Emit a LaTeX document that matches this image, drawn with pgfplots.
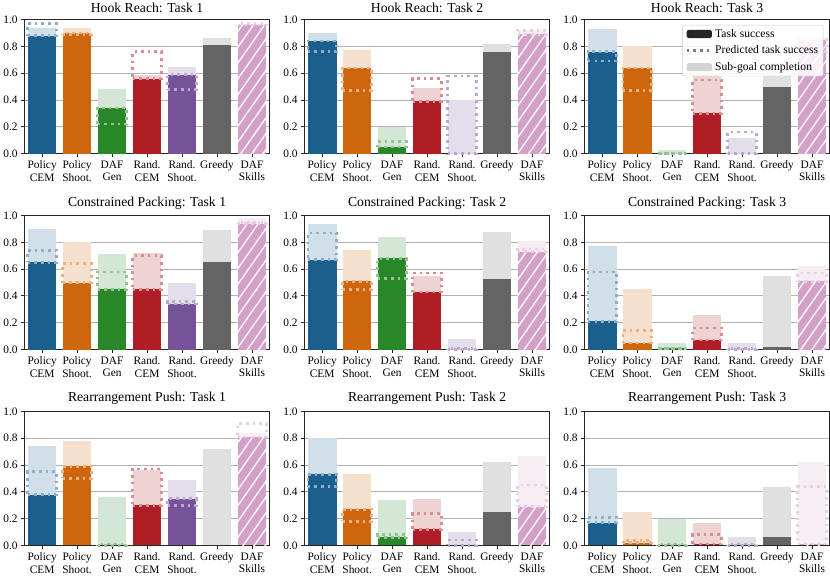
\documentclass[border=0pt]{standalone}
\usepackage{pgfplots}
\pgfplotsset{compat=1.18}
\usepackage{pgfplotstable}
\usepgfplotslibrary{groupplots}
\usetikzlibrary{patterns.meta}
\usepackage{fontspec}
\setmainfont{Liberation Serif}

\definecolor{c0}{RGB}{26,95,142}
\definecolor{c1}{RGB}{205,102,12}
\definecolor{c2}{RGB}{40,135,40}
\definecolor{c3}{RGB}{175,30,38}
\definecolor{c4}{RGB}{118,83,152}
\definecolor{c5}{RGB}{100,100,100}
\definecolor{c6}{RGB}{212,160,200}

% columns: x, task success T, predicted task success P, sub-goal completion S
\pgfplotstableread{
x T P S
0 0.88 0.97 0.94
1 0.90 0.89 0.94
2 0.34 0.22 0.48
3 0.56 0.76 0.59
4 0.59 0.48 0.65
5 0.81 0.81 0.86
6 0.96 0.97 0.97
}\hrA
\pgfplotstableread{
x T P S
0 0.84 0.76 0.90
1 0.64 0.47 0.77
2 0.05 0.09 0.20
3 0.39 0.56 0.49
4 0.00 0.58 0.40
5 0.76 0.76 0.82
6 0.89 0.92 0.92
}\hrB
\pgfplotstableread{
x T P S
0 0.76 0.69 0.93
1 0.64 0.47 0.80
2 0.00 0.00 0.03
3 0.30 0.55 0.60
4 0.00 0.16 0.12
5 0.50 0.50 0.68
6 0.85 0.76 0.86
}\hrC
\pgfplotstableread{
x T P S
0 0.65 0.74 0.90
1 0.50 0.64 0.80
2 0.45 0.58 0.71
3 0.45 0.70 0.72
4 0.34 0.36 0.50
5 0.65 0.65 0.89
6 0.94 0.95 0.98
}\cpA
\pgfplotstableread{
x T P S
0 0.67 0.87 0.94
1 0.51 0.45 0.74
2 0.68 0.53 0.84
3 0.43 0.57 0.55
4 0.00 0.01 0.08
5 0.53 0.53 0.88
6 0.73 0.75 0.81
}\cpB
\pgfplotstableread{
x T P S
0 0.21 0.58 0.77
1 0.05 0.14 0.45
2 0.01 0.01 0.05
3 0.07 0.16 0.26
4 0.00 0.01 0.05
5 0.02 0.02 0.55
6 0.51 0.57 0.62
}\cpC
\pgfplotstableread{
x T P S
0 0.38 0.55 0.74
1 0.59 0.50 0.78
2 0.00 0.01 0.36
3 0.30 0.57 0.56
4 0.35 0.30 0.49
5 0.00 0.00 0.72
6 0.81 0.91 0.84
}\rpA
\pgfplotstableread{
x T P S
0 0.53 0.44 0.80
1 0.27 0.18 0.53
2 0.06 0.08 0.34
3 0.12 0.24 0.35
4 0.00 0.04 0.10
5 0.25 0.25 0.62
6 0.29 0.45 0.67
}\rpB
\pgfplotstableread{
x T P S
0 0.17 0.21 0.58
1 0.02 0.035 0.25
2 0.00 0.01 0.20
3 0.01 0.08 0.17
4 0.00 0.01 0.06
5 0.06 0.06 0.44
6 0.01 0.44 0.62
}\rpC

\tikzset{
  solid0/.style={fill=c0}, solid1/.style={fill=c1}, solid2/.style={fill=c2},
  solid3/.style={fill=c3}, solid4/.style={fill=c4}, solid5/.style={fill=c5},
  solid6/.style={fill=c6, postaction={pattern={Lines[angle=55,distance=9pt,line width=1.3pt]}, pattern color=white}},
  dotbox/.style={dash pattern=on 2.6pt off 4pt, line width=2.6pt},
}
\pgfplotsset{
  boxlegend/.style={legend image code/.code={\fill[##1] (0pt,-4pt) rectangle (25pt,4pt);}},
  dotlegend/.style={legend image code/.code={\draw[##1] (0pt,0pt) -- (25pt,0pt);}},
}

% one panel: light sub-goal bars, solid task bars, dotted predicted boxes
\newcommand{\drawpanel}[1]{%
  \pgfplotsinvokeforeach{0,...,6}{%
    \addplot[ybar, bar width=0.82, bar shift=0pt, draw=none, fill=c##1!20, forget plot,
      restrict x to domain=##1:##1] table[x=x, y=S] {#1};
    \addplot[ybar, bar width=0.82, bar shift=0pt, draw=none, solid##1, forget plot,
      restrict x to domain=##1:##1] table[x=x, y=T] {#1};
  }
  \pgfplotsinvokeforeach{0,1,2,3,4,6}{%
    \addplot[forget plot, only marks, mark=*, mark size=0pt,
      scatter/use mapped color={draw=none, fill=none},
      restrict x to domain=##1:##1,
      visualization depends on={abs(\thisrow{P}-\thisrow{T})*133 \as \bh},
      nodes near coords={},
      every node near coord/.style={anchor=south, inner sep=0pt, outer sep=0pt,
        minimum width=28.5pt, minimum height=\bh pt, draw=c##1!50, dotbox}]
      table[x=x, y expr={min(\thisrow{T},\thisrow{P})}] {#1};
  }
}

\begin{document}
\begin{tikzpicture}
\begin{groupplot}[
  group style={group size=3 by 3, horizontal sep=35pt, vertical sep=61.5pt},
  width=243pt, height=133pt, scale only axis,
  xmin=-0.5, xmax=6.5, ymin=0, ymax=1,
  xtick={0,...,6},
  xticklabels={{Policy\\CEM},{Policy\\Shoot.},{DAF\\Gen},{Rand.\\CEM},{Rand.\\Shoot.},{Greedy},{DAF\\Skills}},
  ytick={0,0.2,...,1.0},
  /pgf/number format/assume math mode=true,
  yticklabel style={/pgf/number format/fixed, /pgf/number format/fixed zerofill, /pgf/number format/precision=1},
  xticklabel style={align=center, font=\fontsize{11.3}{12.6}\selectfont},
  yticklabel style={font=\fontsize{11.3}{12.6}\selectfont},
  title style={font=\fontsize{13.6}{16}\selectfont, yshift=-3pt},
  ymajorgrids, grid style={black!30, line width=1pt},
  axis line style={black!85, line width=0.9pt},
  tick align=outside, tick pos=left, major tick length=3.5pt,
  tick style={black!85, line width=0.9pt},
]
\nextgroupplot[title={Hook Reach: Task 1}]
\drawpanel{\hrA}
\nextgroupplot[title={Hook Reach: Task 2}]
\drawpanel{\hrB}
\nextgroupplot[title={Hook Reach: Task 3},
  legend style={at={(0.975,0.96)}, anchor=north east, draw=black!20, fill=white,
    fill opacity=0.85, text opacity=1, rounded corners=2pt,
    font=\fontsize{11.5}{13}\selectfont, row sep=3pt, cells={anchor=west}}]
\drawpanel{\hrC}
\addlegendimage{boxlegend, fill=black, draw=none}
\addlegendentry{Task success}
\addlegendimage{dotlegend, draw=black!50, dotbox}
\addlegendentry{Predicted task success}
\addlegendimage{boxlegend, fill=black!20, draw=none}
\addlegendentry{Sub-goal completion}
\nextgroupplot[title={Constrained Packing: Task 1}]
\drawpanel{\cpA}
\nextgroupplot[title={Constrained Packing: Task 2}]
\drawpanel{\cpB}
\nextgroupplot[title={Constrained Packing: Task 3}]
\drawpanel{\cpC}
\nextgroupplot[title={Rearrangement Push: Task 1}]
\drawpanel{\rpA}
\nextgroupplot[title={Rearrangement Push: Task 2}]
\drawpanel{\rpB}
\nextgroupplot[title={Rearrangement Push: Task 3}]
\drawpanel{\rpC}
\end{groupplot}
\end{tikzpicture}
\end{document}
